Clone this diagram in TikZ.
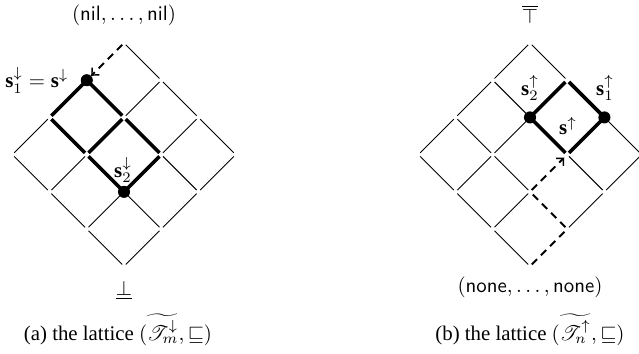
\documentclass[tikz,border=0pt]{standalone}
\usepackage{amssymb}
\usepackage{mathrsfs}
\usepackage{fontspec}
\setmainfont{Liberation Serif}
\usetikzlibrary{arrows.meta}

\begin{document}
\begin{tikzpicture}[x=0.48pt,y=-0.48pt,
  edge/.style={line width=0.45pt, shorten <=1.2pt, shorten >=1.2pt},
  thickedge/.style={line width=1.7pt, shorten <=1.2pt, shorten >=1.2pt},
  dashedge/.style={line width=0.9pt, dash pattern=on 3.6pt off 2.6pt, shorten <=1.2pt, shorten >=1.2pt},
  arrowedge/.style={dashedge, -{Straight Barb[length=2.6pt,width=5pt,line width=0.7pt]}, shorten >=3pt},
  dot/.style={circle, fill=black, inner sep=0pt, minimum size=5.8pt},
  lbl/.style={inner sep=1pt}]
\useasboundingbox (0,0) rectangle (639,353);

% grid vertices: i steps down-right, j steps down-left
\foreach \p/\cx in {a/124, b/530}{
  \foreach \i in {0,...,3}{
    \foreach \j in {0,...,3}{
      \coordinate (\p\i\j) at ({\cx+(\i-\j)*37.2}, {43+(\i+\j)*37.2});
    }
  }
}

% ---- left lattice ----
\foreach \u/\v in {a00/a10, a10/a20, a20/a30, a21/a31, a22/a32, a03/a13, a13/a23, a23/a33,
                   a02/a03, a10/a11, a12/a13, a20/a21, a22/a23, a30/a31, a31/a32, a32/a33}
  \draw[edge] (\u) -- (\v);
\foreach \u/\v in {a01/a11, a11/a21, a02/a12, a12/a22, a01/a02, a11/a12, a21/a22}
  \draw[thickedge] (\u) -- (\v);
\draw[arrowedge] (a00) -- (a01);
\node[dot] (s1a) at (a01) {};
\node[dot] (s2a) at (a22) {};
\node[lbl, anchor=east] (ls1a) at ([xshift=-4.5]s1a.west) {$\mathbf{s}_1^{\downarrow}=\mathbf{s}^{\downarrow}$};
\node[lbl] (ls2a) at (123,170) {$\mathbf{s}_2^{\downarrow}$};
\node (topa) at (124,15) {$(\mathsf{nil},\ldots,\mathsf{nil})$};
\node (bota) at (124,290) {$\underline{\bot}$};
\node (capa) at (118,330) {(a) the lattice $(\widetilde{\mathscr{T}_m^{\downarrow}},\sqsubseteq)$};

% ---- right lattice ----
\foreach \u/\v in {b00/b10, b20/b30, b01/b11, b21/b31, b02/b12, b12/b22, b03/b13, b13/b23, b23/b33,
                   b00/b01, b01/b02, b02/b03, b11/b12, b12/b13, b22/b23, b30/b31, b31/b32}
  \draw[edge] (\u) -- (\v);
\foreach \u/\v in {b11/b10, b10/b20, b11/b21, b20/b21}
  \draw[thickedge] (\u) -- (\v);
\draw[dashedge] (b33) -- (b32);
\draw[dashedge] (b32) -- (b22);
\draw[arrowedge, shorten >=2pt] (b22) -- (b21);
\node[dot] (s2b) at (b11) {};
\node[dot] (s1b) at (b20) {};
\node[lbl] (ls2b) at (530,88) {$\mathbf{s}_2^{\uparrow}$};
\node[lbl] (ls1b) at (605,88) {$\mathbf{s}_1^{\uparrow}$};
\node[lbl] (lsb) at (568,126) {$\mathbf{s}^{\uparrow}$};
\node (topb) at (530,14) {$\overline{\top}$};
\node (botb) at (530,287) {$(\mathsf{none},\ldots,\mathsf{none})$};
\node (capb) at (530,330) {(b) the lattice $(\widetilde{\mathscr{T}_n^{\uparrow}},\sqsubseteq)$};
\end{tikzpicture}
\end{document}
